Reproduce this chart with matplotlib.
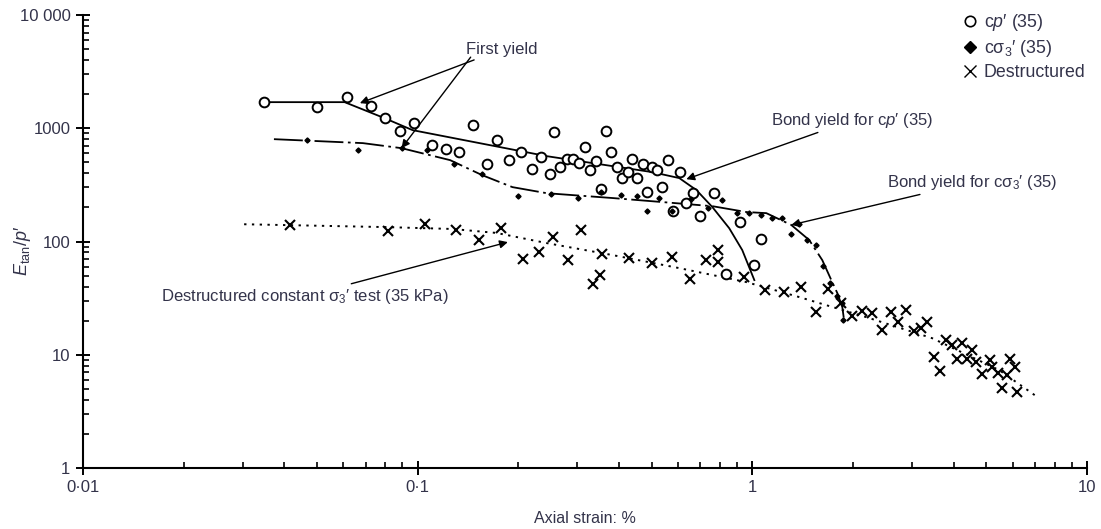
import numpy as np
import matplotlib
matplotlib.use("Agg")
import matplotlib.pyplot as plt
from matplotlib.lines import Line2D
from matplotlib.ticker import FixedLocator, LogLocator, NullFormatter

plt.rcParams['font.family'] = ['Liberation Sans', 'DejaVu Sans']
plt.rcParams['mathtext.fontset'] = 'custom'
plt.rcParams['mathtext.rm'] = 'Liberation Sans'
plt.rcParams['mathtext.it'] = 'Liberation Sans:italic'

txt = '#33334a'

# ---- cp'(35) test, open circles ----
cp_x = [0.0347, 0.050, 0.0614, 0.0725, 0.0796, 0.0883, 0.0973, 0.110, 0.1214, 0.133,
        0.146, 0.161, 0.173, 0.187, 0.203, 0.220, 0.234, 0.248, 0.256, 0.267,
        0.279, 0.292, 0.303, 0.316, 0.328, 0.340, 0.354, 0.366, 0.379, 0.393,
        0.407, 0.424, 0.436, 0.451, 0.470, 0.486, 0.502, 0.520, 0.538, 0.561,
        0.581, 0.610, 0.635, 0.667, 0.700, 0.766, 0.836, 0.920, 1.014, 1.064]
cp_y = [1700, 1535, 1880, 1567, 1228, 943, 1109, 709, 654, 615,
        1065, 482, 785, 523, 615, 435, 556, 393, 924, 454,
        534, 534, 492, 681, 427, 512, 290, 943, 615, 454,
        363, 410, 534, 363, 482, 273, 454, 427, 302, 523,
        185, 410, 218, 267, 168, 267, 51.6, 148, 62, 105]

cp_fit_x = [0.0347, 0.0605, 0.0796, 0.0966, 0.153, 0.243, 0.382, 0.502, 0.605,
            0.681, 0.760, 0.853, 0.933, 1.014]
cp_fit_y = [1700, 1700, 1228, 962, 739, 567, 463, 410, 363,
            284, 201, 131, 84, 45.6]

# ---- c sigma3'(35) test, small diamonds ----
cs_x = [0.0467, 0.0662, 0.0895, 0.1064, 0.128, 0.156, 0.199, 0.251, 0.301, 0.354,
        0.404, 0.451, 0.483, 0.527, 0.577, 0.658, 0.735, 0.813, 0.901, 0.979,
        1.064, 1.148, 1.230, 1.381, 1.307, 1.459, 1.553, 1.629, 1.710, 1.794,
        1.857, 1.870]
cs_y = [785, 641, 667, 641, 482, 393, 252, 262, 242, 273,
        257, 252, 185, 242, 185, 237, 197, 232, 178, 178,
        171, 161, 161, 142, 116, 103, 92.9, 60.7, 42.9, 33.0,
        28.6, 20.2]

cs_fit_x = [0.0372, 0.0686, 0.0895, 0.125, 0.156, 0.192, 0.243, 0.382, 0.538,
            0.760, 0.960, 1.101, 1.307, 1.479, 1.618, 1.722, 1.794, 1.857, 1.880]
cs_fit_y = [801, 739, 667, 523, 385, 302, 267, 242, 223,
            205, 182, 178, 140, 103, 68.5, 45.6, 35.1, 26.4, 20.2]

# ---- destructured test, crosses ----
de_x = [0.0415, 0.0818, 0.105, 0.130, 0.152, 0.178, 0.206, 0.231, 0.253, 0.281,
        0.307, 0.333, 0.351, 0.356, 0.427, 0.500, 0.577, 0.653, 0.725, 0.787,
        0.787, 0.947, 1.094, 1.247, 1.400, 1.553, 1.686, 1.844, 1.990, 2.130,
        2.281, 2.443, 2.600, 2.729, 2.884, 3.047, 3.194, 3.328, 3.492, 3.640,
        3.795, 3.954, 4.093, 4.236, 4.385, 4.539, 4.666, 4.864, 5.131, 5.204,
        5.424, 5.575, 5.770, 5.894, 6.096, 6.180]
de_y = [140, 124, 142, 126, 103, 131, 69.9, 80.6, 109, 68.5,
        126, 42.1, 50.5, 77.4, 71.3, 64.5, 72.8, 46.6, 68.5, 84.0,
        65.8, 48.5, 37.2, 35.8, 39.6, 23.8, 38.0, 28.6, 22.0, 24.3,
        23.3, 16.5, 23.8, 19.4, 24.8, 16.2, 17.2, 19.4, 9.54, 7.18,
        13.5, 12.2, 9.16, 12.7, 9.16, 11.0, 8.62, 6.76, 8.98, 7.79,
        6.89, 5.08, 6.62, 9.16, 7.79, 4.69]

de_fit_x = [0.0303, 0.0806, 0.127, 0.172, 0.243, 0.382, 0.605, 0.960, 1.381,
            2.188, 3.446, 5.461, 7.04]
de_fit_y = [142, 134, 129, 119, 96.8, 75.9, 58.2, 43.8, 32.3,
            21.5, 14.0, 7.33, 4.32]

x_ticks = [0.01, 0.1, 1, 10]
x_ticklabels = ['0·01', '0·1', '1', '10']
y_ticks = [1, 10, 100, 1000, 10000]
y_ticklabels = ['1', '10', '100', '1000', '10 000']

fig = plt.figure(figsize=(11.01, 5.29), dpi=100)
ax = fig.add_axes([83 / 1101, 1 - 468 / 529, (1087 - 83) / 1101, (468 - 15) / 529])
ax.set_xscale('log')
ax.set_yscale('log')
ax.set_xlim(0.01, 10)
ax.set_ylim(1, 10000)

# fitted curves
ax.plot(cp_fit_x, cp_fit_y, color='black', lw=1.3, zorder=2)
ax.plot(cs_fit_x, cs_fit_y, color='black', lw=1.3, linestyle=(0, (16, 2.5, 1.5, 2.5)), zorder=2)
ax.plot(de_fit_x, de_fit_y, color='black', lw=1.4, linestyle=(0, (1.2, 2.8)), zorder=2)

# data points
ax.plot(cp_x, cp_y, 'o', ms=7, mfc='white', mec='black', mew=1.4, zorder=3)
ax.plot(cs_x, cs_y, 'D', ms=2.6, color='black', zorder=4)
ax.plot(de_x, de_y, 'x', ms=7, color='black', mew=1.5, zorder=3)

# annotations
fs = 12
ap = dict(arrowstyle='-|>', color='black', lw=1.0, mutation_scale=12, shrinkA=0, shrinkB=0)
ax.annotate('First yield', xy=(0.0672, 1666), xytext=(0.139, 4245), fontsize=fs,
            color=txt, ha='left', va='bottom', arrowprops=ap)
ax.annotate('', xy=(0.0895, 667), xytext=(0.144, 4245), arrowprops=ap)
ax.annotate("Bond yield for c$p$′ (35)", xy=(0.635, 355), xytext=(1.14, 1178),
            fontsize=fs, color=txt, ha='left', va='center', arrowprops=ap)
ax.annotate("Bond yield for cσ$_3$′ (35)", xy=(1.307, 140), xytext=(2.52, 334),
            fontsize=fs, color=txt, ha='left', va='center', arrowprops=ap)
ax.annotate("Destructured constant σ$_3$′ test (35 kPa)", xy=(0.186, 98.8),
            xytext=(0.124, 33.0), fontsize=fs, color=txt, ha='right', va='center',
            arrowprops=ap)

# legend
handles = [
    Line2D([], [], marker='o', ls='none', ms=7.5, mfc='white', mec='black', mew=1.2),
    Line2D([], [], marker='D', ls='none', ms=6.5, color='black'),
    Line2D([], [], marker='x', ls='none', ms=8.5, color='black', mew=1.0),
]
labels = ["c$p$′ (35)", "cσ$_3$′ (35)", 'Destructured']
leg = ax.legend(handles, labels, loc='upper left', bbox_to_anchor=(0.876, 1.007),
                frameon=False, fontsize=12.8, handlelength=0.8, handletextpad=0.4,
                labelspacing=0.28, borderaxespad=0, borderpad=0)
for t in leg.get_texts():
    t.set_color(txt)

# axes styling
for s in ['top', 'right']:
    ax.spines[s].set_visible(False)
for s in ['left', 'bottom']:
    ax.spines[s].set_linewidth(1.5)

ax.xaxis.set_major_locator(FixedLocator(x_ticks))
ax.set_xticklabels(x_ticklabels)
ax.yaxis.set_major_locator(FixedLocator(y_ticks))
ax.set_yticklabels(y_ticklabels)
ax.xaxis.set_minor_locator(LogLocator(base=10, subs=np.arange(2, 10)))
ax.yaxis.set_minor_locator(LogLocator(base=10, subs=np.arange(2, 10)))
ax.xaxis.set_minor_formatter(NullFormatter())
ax.yaxis.set_minor_formatter(NullFormatter())
ax.tick_params(which='major', direction='inout', length=10, width=1.4,
               labelsize=12, labelcolor=txt, pad=4)
ax.tick_params(which='minor', direction='in', length=4, width=1.2)

ax.set_xlabel('Axial strain: %', fontsize=11.5, color=txt)
ax.xaxis.set_label_coords(0.5, -0.095)
ax.set_ylabel("$E_{\\mathrm{tan}}/p$′", fontsize=13, color=txt)
ax.yaxis.set_label_coords(-0.05, 0.48)

fig.savefig('out.png', dpi=100)
